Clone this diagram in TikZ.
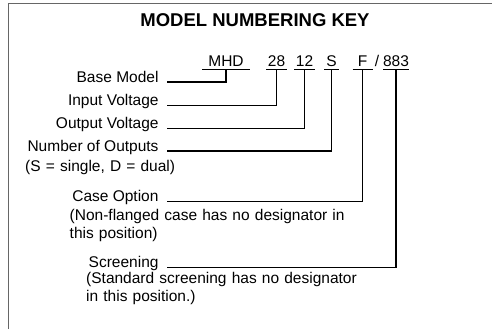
\documentclass[tikz,border=0pt]{standalone}
\usepackage{fontspec}
\setmainfont{Liberation Sans}

\begin{document}
\begin{tikzpicture}[x=1pt, y=-1pt,
          code/.style = {font=\fontsize{15.5}{18}\selectfont, inner xsep=0pt, inner ysep=2.3pt, outer sep=0pt, text depth=0pt, anchor=base},
          lbl/.style = {font=\fontsize{15.5}{18}\selectfont, inner sep=0pt, outer xsep=8.5pt, anchor=base east},
          note/.style = {font=\fontsize{15.5}{18}\selectfont, inner sep=0pt, text width=300pt, align=left, anchor=base west},
          uline/.style = {line width=1pt},
          conn/.style = {line width=1.5pt}]
        \useasboundingbox (0,0) rectangle (492,329);
        \draw[line width=1.5pt, black!60] (8.5,329) -- (8.5,3.5) -- (492,3.5);
        \node[font=\fontsize{18.5}{22}\selectfont\bfseries, anchor=base] (title) at (255,26.5) {MODEL NUMBERING KEY};
        % model number parts
        \node[code, minimum width=48pt] (mhd) at (226,66.7) {MHD};
        \node[code, minimum width=21pt] (n28) at (276.5,66.7) {28};
        \node[code, minimum width=21pt] (n12) at (304.5,66.7) {12};
        \node[code, minimum width=15pt] (nS) at (331.5,66.7) {S};
        \node[code, minimum width=20pt] (nF) at (362.5,66.7) {F};
        \node[code] (slash) at (377,66.7) {/};
        \node[code, minimum width=26pt] (n883) at (396,66.7) {883};
        \foreach \n in {mhd, n28, n12, nS, nF, n883}
                 {
                   \draw[uline] (\n.south west) -- (\n.south east);
                 }
        % labels
        \node[lbl] (base) at (167,82) {Base Model};
        \node[lbl] (vin) at (167,105.3) {Input Voltage};
        \node[lbl] (vout) at (167,128.3) {Output Voltage};
        \node[lbl] (nout) at (167,151) {Number of Outputs};
        \node[note] (noutn) at (25,171) {(S = single, D = dual)};
        \node[lbl] (case) at (167,201.3) {Case Option};
        \node[note] (casen) at (69.5,220.7) {(Non-flanged case has no designator in\\this position)};
        \node[lbl] (scr) at (167,267.5) {Screening};
        \node[note] (scrn) at (86,283.3) {(Standard screening has no designator\\in this position.)};
        \foreach \c/\l in {mhd/base, n28/vin, n12/vout, nS/nout, nF/case, n883/scr}
                 {
                   \draw[conn] (\c.south) |- (\l.base east);
                 }
      \end{tikzpicture}
\end{document}
